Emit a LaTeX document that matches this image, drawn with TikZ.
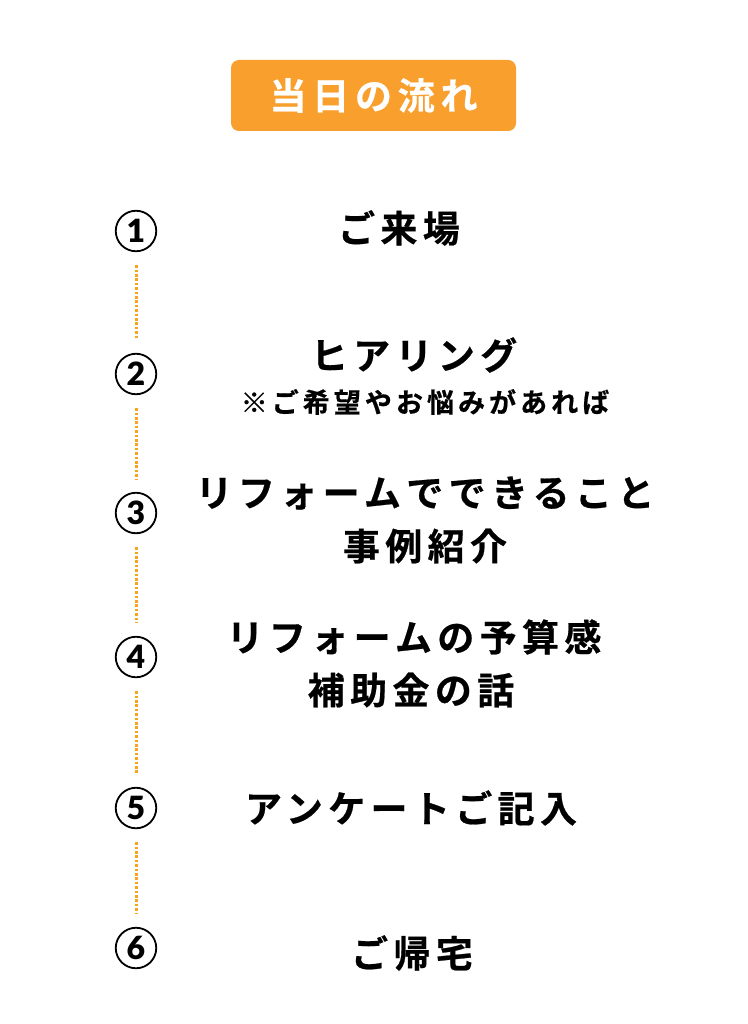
\documentclass[tikz,border=0pt]{standalone}
\usepackage{fontspec}
\setmainfont{Noto Sans CJK JP}
\newfontfamily\jpb{Noto Sans CJK JP Bold}[FakeBold=0.6]
\newfontfamily\digitfont{Lato Black}
\definecolor{titleorange}{HTML}{F89F2E}
\definecolor{dotorange}{HTML}{F7A51F}
\tikzset{
  stepnum/.style={circle,draw=black,line width=1.8pt,minimum size=40.5pt,inner sep=0pt,font=\digitfont\fontsize{32}{32}\selectfont},
  steptext/.style={align=center,inner sep=0pt,font=\jpb\fontsize{37}{37}\selectfont\addfontfeature{LetterSpace=14.5}},
  subtext/.style={inner sep=0pt,font=\jpb\fontsize{27}{27}\selectfont\addfontfeature{LetterSpace=15}},
  dotline/.style={draw=dotorange,line width=3pt,dash pattern=on 2.6pt off 1.8pt,shorten <=13pt,shorten >=13pt}
}
\begin{document}
\begin{tikzpicture}[x=1pt,y=-1pt]
\useasboundingbox (0,0) rectangle (747,1024);
\fill[white] (0,0) rectangle (747,1024);
\node[fill=titleorange,rounded corners=8pt,minimum width=285pt,minimum height=71pt,inner sep=0pt,text=white,font=\jpb\fontsize{37}{37}\selectfont\addfontfeature{LetterSpace=15.5}] (title) at (373.5,95.5) {当日の流れ};
\node[stepnum] (n1) at (136,231) {1};
\node[stepnum] (n2) at (136,374) {2};
\node[stepnum] (n3) at (136,513) {3};
\node[stepnum] (n4) at (136,657) {4};
\node[stepnum] (n5) at (136,808) {5};
\node[stepnum] (n6) at (136,948) {6};
\draw[dotline] (n1) -- (n2);
\draw[dotline] (n2) -- (n3);
\draw[dotline] (n3) -- (n4);
\draw[dotline] (n4) -- (n5);
\draw[dotline] (n5) -- (n6);
\node[steptext] (t1) at (399,228) {ご来場};
\node[steptext] (t2) at (414,355) {ヒアリング};
\node[subtext] (t2b) at (425,402) {※ご希望やお悩みがあれば};
\node[steptext] (t3) at (425,493) {リフォームでできること};
\node[steptext] (t3b) at (425,546) {事例紹介};
\node[steptext] (t4) at (414,637) {リフォームの予算感};
\node[steptext] (t4b) at (411,690) {補助金の話};
\node[steptext] (t5) at (411,808) {アンケートご記入};
\node[steptext] (t6) at (412,953) {ご帰宅};
\end{tikzpicture}
\end{document}
